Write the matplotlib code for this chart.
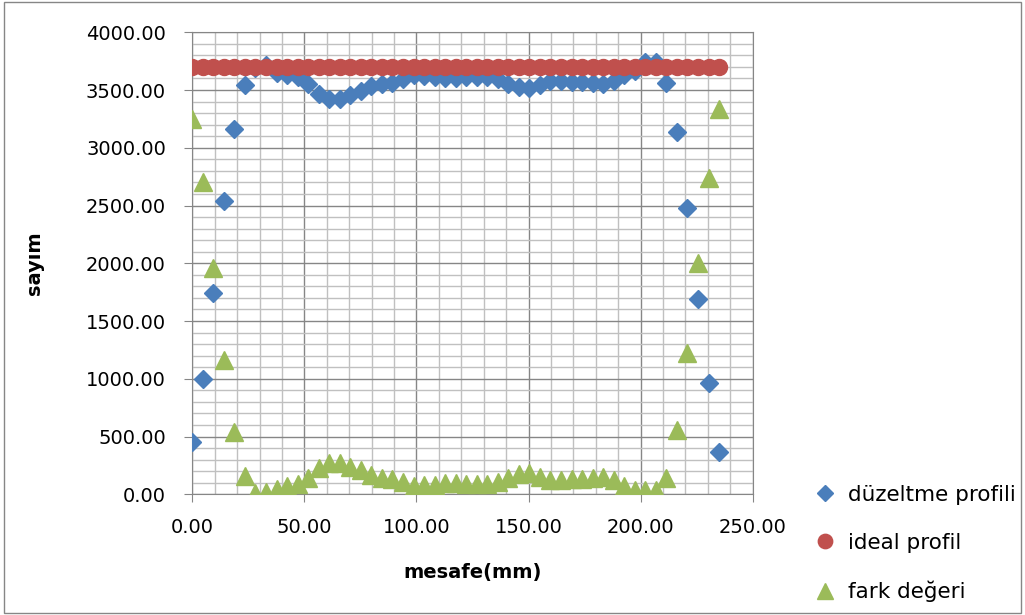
import matplotlib
matplotlib.use("Agg")
import matplotlib.pyplot as plt
from matplotlib.patches import Rectangle
from matplotlib.ticker import MultipleLocator, FormatStrFormatter

# mesafe (mm), 51 points 4.7 mm apart
mesafe = [0.0, 4.7, 9.4, 14.1, 18.8, 23.5, 28.2, 32.9, 37.6, 42.3,
          47.0, 51.7, 56.4, 61.1, 65.8, 70.5, 75.2, 79.9, 84.6, 89.3,
          94.0, 98.7, 103.4, 108.1, 112.8, 117.5, 122.2, 126.9, 131.6, 136.3,
          141.0, 145.7, 150.4, 155.1, 159.8, 164.5, 169.2, 173.9, 178.6, 183.3,
          188.0, 192.7, 197.4, 202.1, 206.8, 211.5, 216.2, 220.9, 225.6, 230.3,
          235.0]

duzeltme = [450, 1000, 1745, 2540, 3165, 3545, 3690, 3717, 3651, 3628,
            3614, 3556, 3470, 3426, 3426, 3461, 3490, 3533, 3556, 3565,
            3594, 3628, 3622, 3617, 3605, 3600, 3612, 3615, 3610, 3594,
            3556, 3527, 3518, 3547, 3576, 3576, 3570, 3570, 3559, 3550,
            3576, 3628, 3663, 3740, 3740, 3558, 3140, 2480, 1695, 965,
            365]

ideal = [3700] * 51

fark = [3250, 2700, 1955, 1160, 535, 155, 10, 17, 49, 72,
        86, 144, 230, 274, 274, 239, 210, 167, 144, 135,
        106, 72, 78, 83, 95, 100, 88, 85, 90, 106,
        144, 173, 182, 153, 124, 124, 130, 130, 141, 150,
        124, 72, 37, 40, 40, 142, 560, 1220, 2005, 2735,
        3335]

plt.rcParams['font.family'] = ['DejaVu Sans']

fig = plt.figure(figsize=(10.25, 6.15), dpi=100)
ax = fig.add_axes([0.1876, 0.1963, 0.5467, 0.7512])

major_c = '#868686'
minor_c = '#c0c0c0'

ax.plot(mesafe, duzeltme, linestyle='none', marker='D', markersize=9.5,
        color='#4a7ebb', label='düzeltme profili', zorder=3)
ax.plot(mesafe, ideal, linestyle='none', marker='o', markersize=11.5,
        color='#c0504d', label='ideal profil', zorder=4)
ax.plot(mesafe, fark, linestyle='none', marker='^', markersize=13,
        color='#9bbb59', label='fark değeri', zorder=5)

ax.set_xlim(0, 250)
ax.set_ylim(0, 4000)
ax.xaxis.set_major_locator(MultipleLocator(50))
ax.xaxis.set_minor_locator(MultipleLocator(10))
ax.yaxis.set_major_locator(MultipleLocator(500))
ax.yaxis.set_minor_locator(MultipleLocator(100))
ax.xaxis.set_major_formatter(FormatStrFormatter('%.2f'))
ax.yaxis.set_major_formatter(FormatStrFormatter('%.2f'))

ax.grid(which='minor', color=minor_c, linewidth=1.0, zorder=0)
ax.grid(which='major', color=major_c, linewidth=1.0, zorder=1)
ax.set_axisbelow(True)

ax.tick_params(which='major', length=6, width=0.8, color=major_c,
               labelsize=14)
ax.tick_params(axis='y', which='major', pad=13)
ax.tick_params(axis='x', which='major', pad=11)
ax.tick_params(which='minor', length=0)
for s in ax.spines.values():
    s.set_color(major_c)
    s.set_linewidth(0.8)

ax.set_xlabel('mesafe(mm)', fontsize=14, fontweight='bold', labelpad=19)
ax.set_ylabel('sayım', fontsize=14, fontweight='bold', labelpad=30)

fig.legend(loc='center left', bbox_to_anchor=(0.778, 0.116), frameon=False,
           fontsize=15.5, handletextpad=0.65, handlelength=0.8,
           labelspacing=1.3, markerscale=0.9)

fig.patches.append(Rectangle((0.004, 0.004), 0.992, 0.992,
                             transform=fig.transFigure, fill=False,
                             edgecolor='#868686', linewidth=1.0))

fig.savefig('out.png', dpi=100)
